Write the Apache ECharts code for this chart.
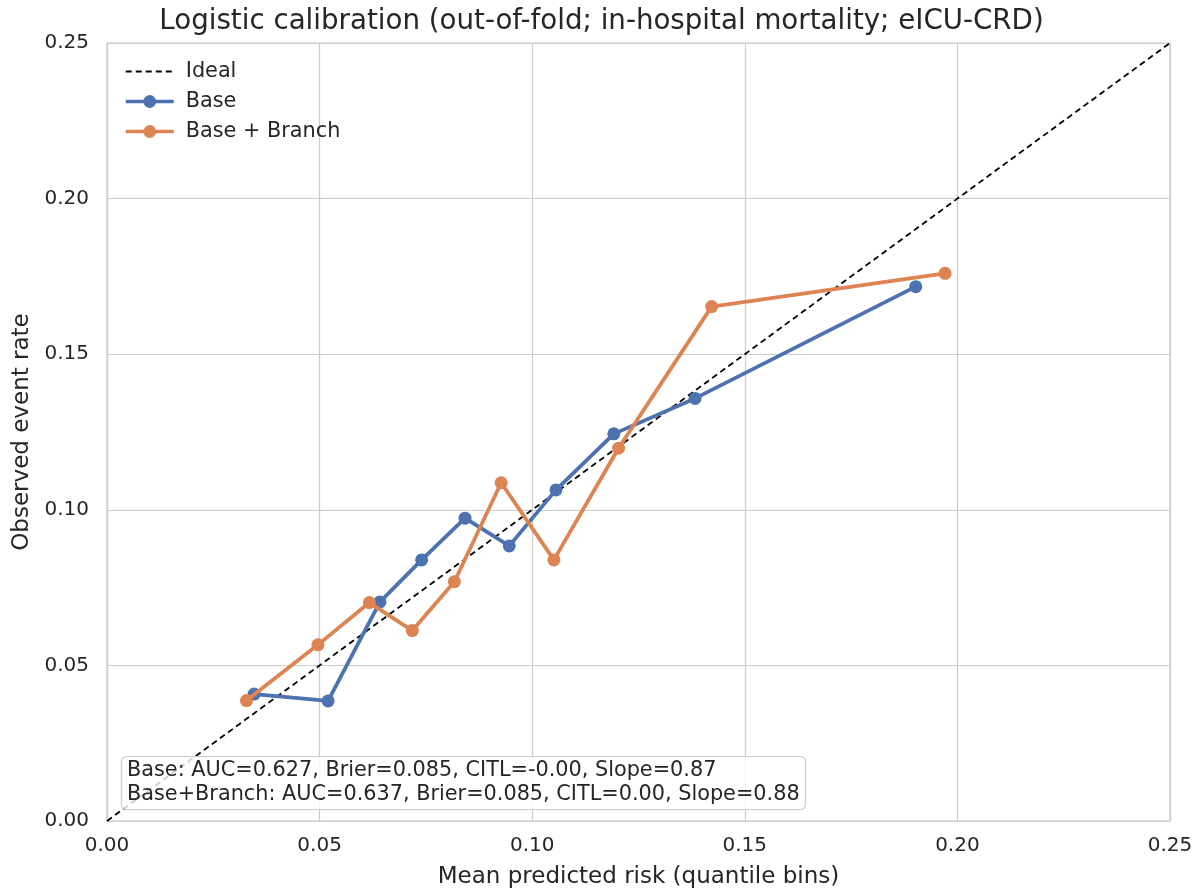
<!DOCTYPE html>
<html>
<head>
<meta charset="utf-8">
<script src="https://cdn.jsdelivr.net/npm/echarts@6/dist/echarts.min.js"></script>
<style>html,body{margin:0;padding:0;background:#fff;}#c{width:1203px;height:896px;}</style>
</head>
<body>
<div id="c"></div>
<script>
const baseX = [0.0346, 0.0520, 0.0642, 0.0740, 0.0842, 0.0946, 0.1056, 0.1192, 0.1383, 0.1902];
const baseY = [0.0408, 0.0386, 0.0704, 0.0839, 0.0973, 0.0884, 0.1064, 0.1244, 0.1358, 0.1717];
const branchX = [0.0328, 0.0496, 0.0617, 0.0718, 0.0817, 0.0927, 0.1051, 0.1203, 0.1422, 0.1971];
const branchY = [0.0387, 0.0566, 0.0702, 0.0612, 0.0769, 0.1087, 0.0839, 0.1198, 0.1653, 0.1760];
const idealLine = [[0, 0], [0.25, 0.25]];
const seriesNames = ['Ideal', 'Base', 'Base + Branch'];
const titleText = 'Logistic calibration (out-of-fold; in-hospital mortality; eICU-CRD)';
const xName = 'Mean predicted risk (quantile bins)';
const yName = 'Observed event rate';
const metricsText = 'Base: AUC=0.627, Brier=0.085, CITL=-0.00, Slope=0.87\nBase+Branch: AUC=0.637, Brier=0.085, CITL=0.00, Slope=0.88';

const FONT = 'DejaVu Sans';
const TXT = '#262626';
const zip = (xs, ys) => xs.map((x, i) => [x, ys[i]]);

const chart = echarts.init(document.getElementById('c'));
chart.setOption({
  animation: false,
  backgroundColor: '#fff',
  textStyle: { fontFamily: FONT, color: TXT },
  title: [
    { text: titleText, left: 'center', top: 3,
      textStyle: { fontFamily: FONT, fontSize: 27.7, fontWeight: 'normal', color: TXT } },
    { text: metricsText, left: 121, top: 756, padding: [3, 6, 3, 6],
      backgroundColor: 'rgba(255,255,255,0.8)', borderColor: '#cccccc', borderWidth: 1.2, borderRadius: 5,
      textStyle: { fontFamily: FONT, fontSize: 20.8, fontWeight: 'normal', color: TXT, lineHeight: 24 } }
  ],
  grid: { left: 107, right: 33, top: 43, bottom: 75, show: true, borderColor: '#cccccc', borderWidth: 1.2 },
  legend: {
    orient: 'vertical', left: 124, top: 61, padding: 0, itemGap: 9, itemWidth: 48, itemHeight: 16,
    data: [
      { name: seriesNames[0], itemStyle: { opacity: 0 }, lineStyle: { width: 1.8 } },
      { name: seriesNames[1], lineStyle: { width: 3.5 } },
      { name: seriesNames[2], lineStyle: { width: 3.5 } }
    ],
    textStyle: { fontFamily: FONT, fontSize: 20.8, color: TXT, padding: [0, 0, 0, 7] }
  },
  xAxis: {
    type: 'value', min: 0, max: 0.25, interval: 0.05,
    name: xName, nameLocation: 'middle', nameGap: 45,
    nameTextStyle: { fontFamily: FONT, fontSize: 23, color: TXT },
    axisLine: { show: true, lineStyle: { color: '#cccccc', width: 1.2 } },
    axisTick: { show: false },
    axisLabel: { fontFamily: FONT, fontSize: 20, color: TXT, margin: 15, formatter: v => v.toFixed(2) },
    splitLine: { show: true, lineStyle: { color: '#cccccc', width: 1.2 } }
  },
  yAxis: {
    type: 'value', min: 0, max: 0.25, interval: 0.05,
    name: yName, nameLocation: 'middle', nameGap: 58,
    nameTextStyle: { fontFamily: FONT, fontSize: 23, color: TXT },
    axisLine: { show: true, lineStyle: { color: '#cccccc', width: 1.2 } },
    axisTick: { show: false },
    axisLabel: { fontFamily: FONT, fontSize: 20, color: TXT, margin: 18, formatter: v => v.toFixed(2) },
    splitLine: { show: true, lineStyle: { color: '#cccccc', width: 1.2 } }
  },
  series: [
    { name: seriesNames[0], type: 'line', data: idealLine, symbol: 'none', z: 3,
      lineStyle: { color: '#000', width: 1.8, type: [6, 4] }, itemStyle: { color: '#000' } },
    { name: seriesNames[1], type: 'line', data: zip(baseX, baseY), symbol: 'circle', symbolSize: 13, z: 4,
      lineStyle: { color: '#4c72b0', width: 3.8 }, itemStyle: { color: '#4c72b0' } },
    { name: seriesNames[2], type: 'line', data: zip(branchX, branchY), symbol: 'circle', symbolSize: 13, z: 5,
      lineStyle: { color: '#dd8452', width: 3.8 }, itemStyle: { color: '#dd8452' } }
  ]
});
</script>
</body>
</html>
